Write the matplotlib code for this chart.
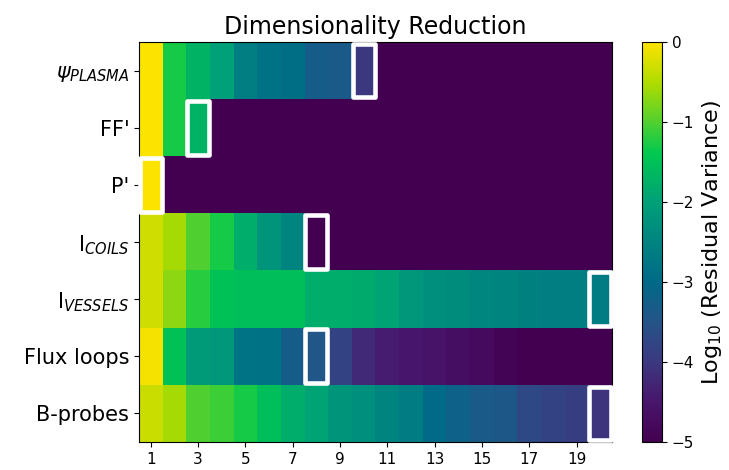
import matplotlib

matplotlib.use("Agg")
import matplotlib.pyplot as plt
import numpy as np
from matplotlib.colors import LinearSegmentedColormap
from matplotlib.patches import Rectangle

# log10 residual variance per number of retained components (1..20)
psi_plasma = [0.0, -1.3, -1.7, -2.0, -2.6, -2.85, -2.9, -3.3, -3.35, -4.0,
              -5, -5, -5, -5, -5, -5, -5, -5, -5, -5]
ff_prime = [0.0, -1.3, -1.7] + [-5] * 17
p_prime = [0.0] + [-5] * 19
i_coils = [-0.3, -0.55, -1.0, -1.3, -1.8, -2.2, -2.5] + [-5] * 13
i_vessels = [-0.3, -0.7, -1.2, -1.5, -1.55, -1.55, -1.55, -1.8, -1.8, -1.85,
             -1.95, -2.15, -2.3, -2.35, -2.45, -2.5, -2.55, -2.6, -2.6, -2.65]
flux_loops = [-0.05, -1.5, -2.1, -2.15, -2.8, -2.85, -3.3, -3.45, -3.8, -4.2,
              -4.4, -4.5, -4.55, -4.65, -4.75, -4.9, -5, -5, -5, -5]
b_probes = [-0.35, -0.55, -1.0, -1.1, -1.3, -1.55, -1.8, -1.95, -2.2, -2.3,
            -2.5, -2.65, -3.0, -3.2, -3.35, -3.4, -3.7, -3.8, -3.9, -4.05]

row_labels = [r"$\psi_{PLASMA}$", "FF'", "P'", r"I$_{COILS}$",
              r"I$_{VESSELS}$", "Flux loops", "B-probes"]
# selected number of components for each quantity
selected = [10, 3, 1, 8, 20, 8, 20]

cmap = LinearSegmentedColormap.from_list(
    "resvar",
    [
        (0.00, "#440050"),
        (0.10, "#48166c"),
        (0.20, "#3c3880"),
        (0.30, "#245488"),
        (0.40, "#006a88"),
        (0.50, "#008480"),
        (0.60, "#00a078"),
        (0.72, "#00c850"),
        (0.80, "#50d030"),
        (0.90, "#b0dc00"),
        (1.00, "#fce300"),
    ],
)

data = np.array([psi_plasma, ff_prime, p_prime, i_coils,
                 i_vessels, flux_loops, b_probes])
n_rows, n_cols = data.shape

fig = plt.figure(figsize=(7.29, 4.70), dpi=100)
ax = fig.add_axes([139 / 729, 1 - 442 / 470, (612 - 139) / 729, 400 / 470])
cax = fig.add_axes([642 / 729, 1 - 442 / 470, 20 / 729, 400 / 470])

im = ax.imshow(data, cmap=cmap, vmin=-5, vmax=0, aspect="auto",
               interpolation="nearest",
               extent=(0.5, n_cols + 0.5, n_rows - 0.5, -0.5))

for row, col in enumerate(selected):
    ax.add_patch(Rectangle((col - 0.5 + 0.03, row - 0.5 + 0.03), 0.94, 0.94,
                           fill=False, edgecolor="white", linewidth=3.3,
                           joinstyle="round", clip_on=False, zorder=3))

ax.set_xticks(np.arange(1, n_cols + 1, 2))
ax.set_yticks(np.arange(n_rows))
ax.set_yticklabels(row_labels, fontsize=15)
ax.tick_params(axis="x", labelsize=11)
ax.set_title("Dimensionality Reduction", fontsize=17, pad=6)

cbar = fig.colorbar(im, cax=cax)
cbar.set_ticks([0, -1, -2, -3, -4, -5])
cbar.ax.tick_params(labelsize=11)
cbar.set_label(r"Log$_{10}$ (Residual Variance)", fontsize=16)

fig.savefig("out.png", dpi=100)
